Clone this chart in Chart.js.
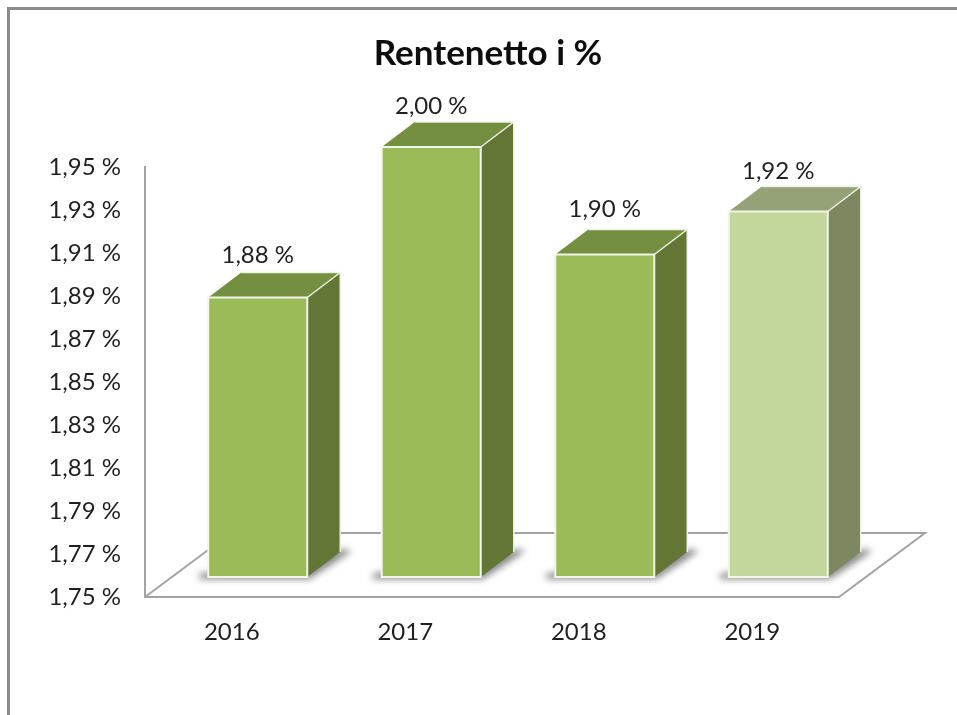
<!DOCTYPE html>
<html>
<head>
<meta charset="utf-8">
<title>Rentenetto i %</title>
<script src="https://cdn.jsdelivr.net/npm/chart.js@4"></script>
<style>
    body { margin: 0; background: #fff; }
    canvas { display: block; }
</style>
</head>
<body>
<canvas id="grafico" width="957" height="715"></canvas>
<script>
const years = ["2016", "2017", "2018", "2019"];
const rente = [1.88, 2.00, 1.90, 1.92];
const yTicks = [1.75, 1.77, 1.79, 1.81, 1.83, 1.85, 1.87, 1.89, 1.91, 1.93, 1.95];

const frontColors = ["#9BBB59", "#9BBB59", "#9BBB59", "#C3D69B"];
const topColors = ["#758F40", "#758F40", "#758F40", "#95A277"];
const sideColors = ["#647636", "#647636", "#647636", "#7D8860"];
const labelLift = [42, 41, 45, 40];

const textColor = "#1F1F1F";
const fontFamily = "Lato, 'Open Sans', sans-serif";
const depthX = 33, depthY = 25; // 3D depth of a bar
const axisShiftX = 26, axisShiftY = 20; // the axes sit in front of the bars

function pct(v) {
    return v.toFixed(2).replace(".", ",") + " %";
}

function poly(ctx, pts, fill) {
    ctx.beginPath();
    pts.forEach((p, i) => i ? ctx.lineTo(p[0], p[1]) : ctx.moveTo(p[0], p[1]));
    ctx.closePath();
    ctx.fillStyle = fill;
    ctx.fill();
}

// Bar geometry, the tallest bar is cut at the top of the axis
function barBox(chart, bar) {
    const w = bar.width;
    return { x: bar.x - w / 2, w: w, y: Math.max(bar.y, chart.chartArea.top), b: bar.base };
}

const box3d = {
    id: "box3d",
    afterLayout(chart) {
        // title is centred a little right of the plot
        chart.titleBlock.left = 111;
    },
    beforeDatasetsDraw(chart) {
        const ctx = chart.ctx;
        const a = chart.chartArea;
        const left = a.left - axisShiftX, bottom = a.bottom + axisShiftY;
        const right = a.right - axisShiftX;

        ctx.save();
        // outer frame
        ctx.strokeStyle = "#8C8C8C";
        ctx.lineWidth = 3;
        ctx.beginPath();
        ctx.moveTo(8.5, 715);
        ctx.lineTo(8.5, 8.5);
        ctx.lineTo(957, 8.5);
        ctx.stroke();

        // floor and left wall
        ctx.strokeStyle = "#A3A3A3";
        ctx.lineWidth = 2;
        ctx.beginPath();
        ctx.moveTo(left, a.top + axisShiftY - 1);
        ctx.lineTo(left, bottom);
        ctx.lineTo(right, bottom);
        ctx.lineTo(right + 86, bottom - 64);
        ctx.lineTo(left + 86, bottom - 64);
        ctx.lineTo(left, bottom);
        ctx.stroke();
        ctx.restore();

        chart.getDatasetMeta(0).data.forEach((bar, i) => {
            const r = barBox(chart, bar);
            const xr = r.x + r.w;
            ctx.save();
            // soft shadow on the floor
            ctx.filter = "blur(3.5px)";
            poly(ctx, [
                [r.x - 9, r.b - 3], [xr + depthX + 8, r.b - depthY - 3],
                [xr + depthX + 10, r.b - depthY], [xr + 2, r.b + 2], [r.x - 9, r.b + 2]
            ], "#858585");
            ctx.restore();

            ctx.save();
            ctx.lineWidth = 1.5;
            ctx.lineJoin = "round";
            poly(ctx, [[r.x, r.y], [xr, r.y], [xr + depthX, r.y - depthY], [r.x + depthX, r.y - depthY]], topColors[i]);
            poly(ctx, [[xr, r.y], [xr + depthX, r.y - depthY], [xr + depthX, r.b - depthY], [xr, r.b]], sideColors[i]);
            ctx.strokeStyle = "#EDF1E2";
            ctx.beginPath();
            ctx.moveTo(r.x + depthX, r.y - depthY);
            ctx.lineTo(xr + depthX, r.y - depthY);
            ctx.lineTo(xr, r.y);
            ctx.moveTo(xr + depthX, r.y - depthY);
            ctx.lineTo(xr + depthX, r.b - depthY);
            ctx.stroke();
            ctx.restore();
        });
    },
    afterDatasetsDraw(chart) {
        const ctx = chart.ctx;
        chart.getDatasetMeta(0).data.forEach((bar, i) => {
            const r = barBox(chart, bar);
            ctx.save();
            // white edge of the front face
            ctx.strokeStyle = "#F2F5EA";
            ctx.lineWidth = 2;
            ctx.strokeRect(r.x, r.y, r.w, r.b - r.y);
            // value label
            ctx.fillStyle = textColor;
            ctx.font = "24px " + fontFamily;
            ctx.textAlign = "center";
            ctx.textBaseline = "middle";
            ctx.fillText(pct(rente[i]), bar.x, r.y - labelLift[i]);
            ctx.restore();
        });
    }
};

const ctx = document.getElementById("grafico").getContext("2d");
const chart = new Chart(ctx, {
    type: "bar",
    data: {
        labels: years,
        datasets: [{
            label: "Rentenetto i %",
            data: rente,
            base: 1.75,
            backgroundColor: frontColors,
            borderWidth: 0,
            barThickness: 99
        }]
    },
    options: {
        responsive: false,
        animation: false,
        layout: {
            padding: { top: 33, left: 0, right: 92, bottom: 0 }
        },
        plugins: {
            legend: { display: false },
            tooltip: { enabled: false },
            title: {
                display: true,
                text: "Rentenetto i %",
                color: "#0D0D0D",
                font: { family: fontFamily, size: 35, weight: "bold", lineHeight: 1.2 },
                padding: { top: 0, bottom: 72 }
            }
        },
        scales: {
            x: {
                grid: { display: false },
                border: { display: false },
                ticks: {
                    color: textColor,
                    font: { family: fontFamily, size: 24 },
                    padding: 33,
                    labelOffset: -axisShiftX,
                    autoSkip: false,
                    maxRotation: 0
                },
                afterFit: s => { s.height = 138; }
            },
            y: {
                min: 1.75,
                max: 1.95,
                grid: { display: false },
                border: { display: false },
                ticks: {
                    color: textColor,
                    font: { family: fontFamily, size: 24 },
                    padding: 42,
                    labelOffset: axisShiftY,
                    autoSkip: false,
                    callback: v => pct(v)
                },
                afterBuildTicks: s => { s.ticks = yTicks.map(v => ({ value: v })); },
                afterFit: s => { s.width = 171; }
            }
        }
    },
    plugins: [box3d]
});
</script>
</body>
</html>
